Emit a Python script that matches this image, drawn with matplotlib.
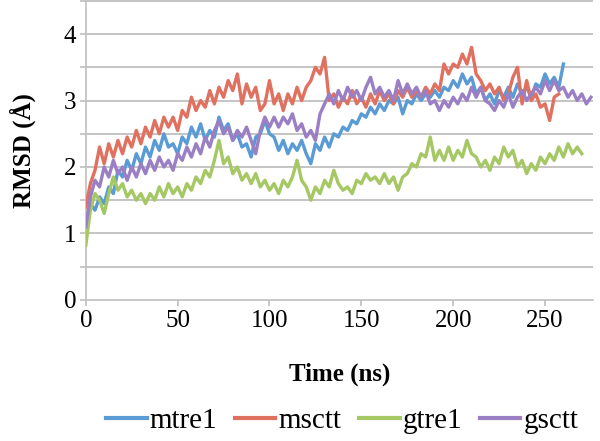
import numpy as np
import matplotlib
matplotlib.use("Agg")
import matplotlib.pyplot as plt
from matplotlib.ticker import MultipleLocator

# RMSD values, one sample every 2.5 ns
dt = 2.5

mtre1 = [1.10, 1.45, 1.35, 1.55, 1.45, 1.70, 1.60, 1.95, 1.85, 2.10,
         1.95, 2.20, 2.05, 2.30, 2.15, 2.40, 2.25, 2.50, 2.30, 2.35,
         2.20, 2.45, 2.35, 2.60, 2.45, 2.65, 2.40, 2.55, 2.45, 2.75,
         2.55, 2.65, 2.40, 2.50, 2.30, 2.35, 2.15, 2.45, 2.50, 2.70,
         2.50, 2.45, 2.25, 2.40, 2.20, 2.35, 2.25, 2.40, 2.20, 2.05,
         2.35, 2.25, 2.45, 2.30, 2.50, 2.45, 2.60, 2.55, 2.70, 2.65,
         2.80, 2.75, 2.90, 2.80, 2.95, 2.85, 3.00, 2.95, 3.05, 2.80,
         3.00, 2.95, 3.10, 3.00, 3.10, 3.05, 3.15, 3.05, 3.20, 3.15,
         3.30, 3.20, 3.40, 3.25, 3.35, 3.10, 3.20, 3.00, 3.10, 2.95,
         3.15, 3.05, 3.20, 3.05, 3.25, 3.10, 3.20, 3.05, 3.25, 3.20,
         3.40, 3.25, 3.35, 3.20, 3.55]

msctt = [1.40, 1.75, 1.95, 2.30, 2.05, 2.35, 2.15, 2.40, 2.20, 2.45,
         2.30, 2.55, 2.35, 2.60, 2.45, 2.70, 2.50, 2.75, 2.60, 2.75,
         2.55, 2.85, 2.75, 3.05, 2.85, 3.00, 2.90, 3.15, 2.95, 3.20,
         3.05, 3.30, 3.15, 3.40, 2.95, 3.25, 3.05, 3.20, 2.85, 2.95,
         3.30, 2.95, 3.10, 2.85, 3.10, 2.95, 3.20, 3.00, 3.20, 3.30,
         3.50, 3.40, 3.65, 3.00, 3.10, 2.90, 3.05, 2.95, 3.15, 2.95,
         3.05, 2.90, 3.10, 2.95, 3.15, 3.00, 3.10, 2.95, 3.15, 3.05,
         3.20, 3.05, 3.15, 3.05, 3.20, 3.10, 3.25, 3.15, 3.55, 3.40,
         3.55, 3.50, 3.70, 3.55, 3.80, 3.40, 3.30, 3.15, 3.25, 3.10,
         3.20, 3.00, 3.10, 3.35, 3.50, 2.95, 3.30, 3.00, 3.10, 2.90,
         2.95, 2.70, 3.05, 3.10]

gtre1 = [0.82, 1.35, 1.60, 1.50, 1.30, 1.60, 1.85, 1.65, 1.75, 1.55,
         1.65, 1.50, 1.60, 1.45, 1.60, 1.50, 1.70, 1.55, 1.75, 1.60,
         1.70, 1.55, 1.75, 1.65, 1.85, 1.75, 1.95, 1.85, 2.10, 2.40,
         2.05, 2.15, 1.90, 2.00, 1.80, 1.90, 1.75, 1.90, 1.70, 1.80,
         1.65, 1.75, 1.60, 1.80, 1.70, 1.85, 2.10, 1.80, 1.70, 1.50,
         1.70, 1.60, 1.80, 1.70, 1.95, 1.75, 1.65, 1.70, 1.60, 1.80,
         1.75, 1.90, 1.80, 1.85, 1.75, 1.90, 1.75, 1.85, 1.65, 1.85,
         1.90, 2.05, 2.00, 2.20, 2.15, 2.45, 2.10, 2.25, 2.10, 2.30,
         2.10, 2.25, 2.15, 2.40, 2.20, 2.15, 2.00, 2.10, 1.95, 2.15,
         2.05, 2.30, 2.15, 2.25, 2.00, 2.10, 1.90, 2.05, 1.95, 2.15,
         2.05, 2.20, 2.10, 2.30, 2.15, 2.35, 2.20, 2.30, 2.20]

gsctt = [1.10, 1.55, 1.80, 1.70, 2.00, 1.85, 2.10, 1.90, 2.00, 1.80,
         2.00, 1.85, 2.05, 1.90, 2.10, 1.95, 2.15, 2.00, 2.10, 1.95,
         2.20, 2.10, 2.30, 2.15, 2.35, 2.20, 2.45, 2.30, 2.55, 2.70,
         2.50, 2.60, 2.40, 2.55, 2.45, 2.60, 2.40, 2.20, 2.55, 2.75,
         2.60, 2.75, 2.60, 2.75, 2.65, 2.80, 2.55, 2.65, 2.45, 2.55,
         2.40, 2.80, 2.95, 3.10, 2.95, 3.15, 3.00, 3.20, 3.05, 3.15,
         3.00, 3.20, 3.35, 3.10, 3.20, 3.05, 3.15, 3.00, 3.30, 3.10,
         3.25, 3.10, 3.20, 3.05, 3.15, 2.95, 3.00, 2.85, 3.00, 2.90,
         3.05, 2.95, 3.10, 3.00, 3.20, 3.05, 3.20, 3.00, 2.95, 2.85,
         3.00, 2.90, 3.10, 2.90, 3.05, 3.15, 3.00, 3.10, 3.20, 3.10,
         3.30, 3.15, 3.30, 3.15, 3.20, 3.05, 3.15, 3.00, 3.10, 2.95,
         3.05]

names = ["mtre1", "msctt", "gtre1", "gsctt"]
colors = ["#5B9BD5", "#E0705F", "#A5C864", "#9B7FC4"]

plt.rcParams['font.family'] = ['Liberation Serif', 'DejaVu Serif']

fig = plt.figure(figsize=(6, 4.41), dpi=100)
ax = fig.add_axes([0.143, 0.32, 0.845, 0.678])

ax.set_xlim(0, 276)
ax.set_ylim(0, 4.5)

# horizontal gridlines every 0.5, drawn before the series
grid_y = np.arange(0.5, 4.51, 0.5)
for yv in grid_y:
    ax.plot([0, 276], [yv, yv], color='#C4C4C4', lw=1.4, zorder=1,
            solid_capstyle='butt', clip_on=False)

for vals, name, col in zip([mtre1, msctt, gtre1, gsctt], names, colors):
    t = np.arange(len(vals)) * dt
    ax.plot(t, vals, color=col, lw=2.4, label=name, zorder=3)

ax.xaxis.set_major_locator(MultipleLocator(50))
ax.yaxis.set_major_locator(MultipleLocator(1))
ax.yaxis.set_minor_locator(MultipleLocator(0.5))

for s in ['top', 'right']:
    ax.spines[s].set_visible(False)
for s in ['left', 'bottom']:
    ax.spines[s].set_color('#BFBFBF')
    ax.spines[s].set_linewidth(1.2)
ax.tick_params(which='both', color='#BFBFBF', width=1.2, length=4, labelsize=18, pad=3)

ax.set_xlabel("Time (ns)", fontsize=18, fontweight='bold', labelpad=22)
ax.set_ylabel("RMSD (Å)", fontsize=18, fontweight='bold', labelpad=20)

handles = ax.get_lines()[len(grid_y):]
leg = fig.legend(handles, names, loc='center', bbox_to_anchor=(0.57, 0.045), ncol=4,
                 frameon=False, prop={'family': 'Liberation Serif', 'size': 21},
                 handlelength=1.4, handletextpad=0.1, columnspacing=0.6)
for h in leg.get_lines():
    h.set_linewidth(3)

plt.savefig("out.png", dpi=100)
